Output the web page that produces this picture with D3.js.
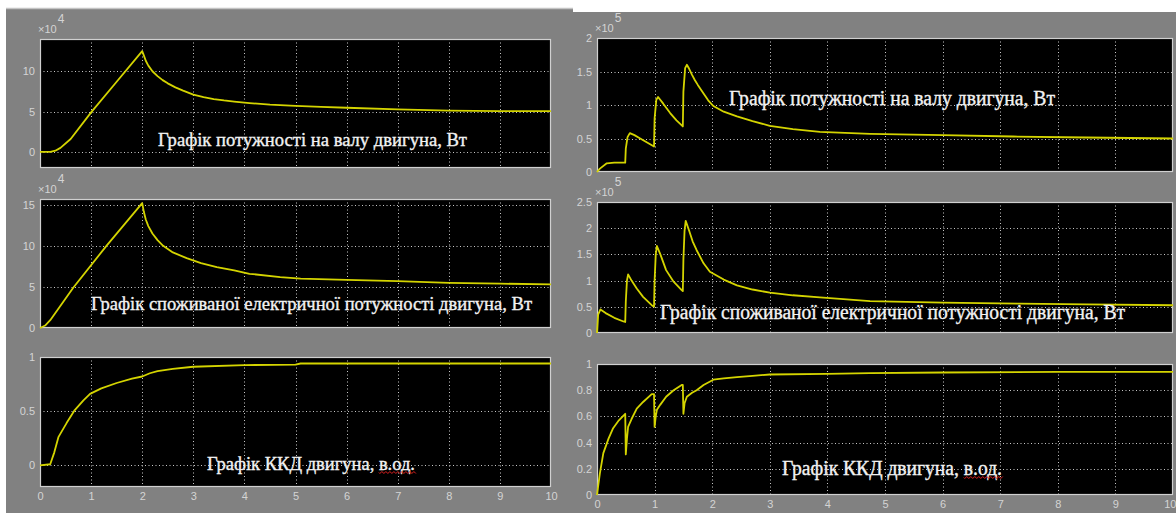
<!DOCTYPE html>
<html>
<head>
<meta charset="utf-8">
<script src="https://cdn.jsdelivr.net/npm/d3@7"></script>
<style>
  html, body { margin: 0; padding: 0; background: #ffffff; }
  svg { display: block; }
</style>
</head>
<body>
<svg id="chart" width="1176" height="513"></svg>
<script>
// ---------------- DATA ----------------
const xTicks = [0, 1, 2, 3, 4, 5, 6, 7, 8, 9, 10];

// Left simulation (scale ×10^4 for power)
const leftShaftT = [0, 0.2, 0.3, 0.4, 0.6, 1.0, 1.5, 2.0, 2.03, 2.07, 2.12, 2.2, 2.3, 2.4, 2.5, 2.65, 2.8, 3.0, 3.2, 3.4, 3.6, 3.8, 4.1, 4.5, 5.0, 5.5, 6.0, 7.0, 8.0, 9.0, 10];
const leftShaftP = [0, 0, 0.15, 0.5, 1.6, 4.9, 8.7, 12.5, 12.0, 11.3, 10.7, 10.0, 9.4, 8.9, 8.5, 8.0, 7.6, 7.1, 6.78, 6.55, 6.38, 6.24, 6.05, 5.85, 5.7, 5.58, 5.47, 5.27, 5.12, 5.06, 5.05];
const leftShaftTicks = [0, 5, 10];

const leftElecT = [0, 0.1, 0.2, 0.65, 1.3, 2.0, 2.03, 2.07, 2.12, 2.2, 2.3, 2.41, 2.6, 2.87, 3.15, 3.46, 3.8, 4.1, 4.7, 5.1, 6.0, 7.0, 8.0, 9.0, 10];
const leftElecP = [0, 0.3, 0.95, 4.9, 10, 15.2, 14.2, 13.2, 12.4, 11.5, 10.7, 10.0, 9.2, 8.5, 7.9, 7.4, 7.0, 6.6, 6.2, 6.0, 5.85, 5.7, 5.5, 5.4, 5.3];
const leftElecTicks = [0, 5, 10, 15];

const leftEffT = [0, 0.2, 0.28, 0.36, 0.52, 0.68, 0.85, 0.98, 1.2, 1.5, 1.8, 2.0, 2.15, 2.3, 2.6, 3.0, 4.0, 5.0, 5.1, 7, 10];
const leftEffV = [0, 0.01, 0.12, 0.26, 0.39, 0.51, 0.6, 0.66, 0.71, 0.76, 0.8, 0.82, 0.85, 0.87, 0.89, 0.91, 0.925, 0.93, 0.94, 0.94, 0.94];
const leftEffTicks = [0, 0.5, 1];

// Right simulation (scale ×10^5 for power)
const rightShaftT = [0, 0.05, 0.17, 0.3, 0.49, 0.5, 0.53, 0.57, 0.65, 0.75, 0.87, 0.99, 1.0, 1.03, 1.06, 1.15, 1.27, 1.38, 1.49, 1.5, 1.53, 1.56, 1.6, 1.65, 1.7, 1.75, 1.85, 1.93, 2.02, 2.2, 2.43, 2.7, 3.0, 3.4, 3.87, 4.74, 6.0, 7.22, 8.5, 10];
const rightShaftP = [0, 0.05, 0.13, 0.14, 0.14, 0.35, 0.52, 0.58, 0.55, 0.50, 0.44, 0.38, 0.8, 1.08, 1.12, 1.02, 0.88, 0.77, 0.68, 1.2, 1.55, 1.6, 1.54, 1.45, 1.37, 1.3, 1.17, 1.07, 0.985, 0.9, 0.83, 0.76, 0.69, 0.64, 0.6, 0.57, 0.55, 0.53, 0.515, 0.50];
const rightShaftTicks = [0, 0.5, 1, 1.5, 2];

const rightElecT = [0, 0.02, 0.06, 0.15, 0.3, 0.46, 0.49, 0.5, 0.52, 0.54, 0.6, 0.69, 0.8, 0.95, 0.99, 1.0, 1.02, 1.04, 1.1, 1.2, 1.33, 1.47, 1.49, 1.5, 1.52, 1.54, 1.6, 1.66, 1.73, 1.85, 1.96, 2.2, 2.43, 2.7, 3.0, 3.4, 3.87, 4.74, 6.0, 7.34, 8.5, 10];
const rightElecP = [0, 0.35, 0.45, 0.38, 0.29, 0.22, 0.21, 0.6, 1.0, 1.12, 1.0, 0.85, 0.69, 0.53, 0.5, 1.0, 1.5, 1.66, 1.5, 1.2, 0.98, 0.82, 0.8, 1.4, 1.95, 2.14, 1.95, 1.75, 1.58, 1.33, 1.17, 1.02, 0.91, 0.83, 0.77, 0.72, 0.68, 0.61, 0.58, 0.56, 0.545, 0.53];
const rightElecTicks = [0, 0.5, 1, 1.5, 2, 2.5];

const rightEffT = [0, 0.05, 0.11, 0.2, 0.28, 0.38, 0.49, 0.5, 0.52, 0.54, 0.6, 0.69, 0.8, 0.95, 0.99, 1.0, 1.02, 1.04, 1.1, 1.2, 1.33, 1.47, 1.49, 1.5, 1.52, 1.56, 1.65, 1.73, 1.85, 2.02, 2.2, 2.43, 2.7, 3.0, 4.0, 4.74, 6, 8, 10];
const rightEffV = [0, 0.165, 0.32, 0.43, 0.51, 0.57, 0.62, 0.31, 0.43, 0.52, 0.58, 0.66, 0.71, 0.77, 0.77, 0.52, 0.6, 0.65, 0.69, 0.75, 0.8, 0.84, 0.84, 0.62, 0.7, 0.75, 0.78, 0.80, 0.84, 0.88, 0.89, 0.90, 0.91, 0.92, 0.925, 0.93, 0.935, 0.94, 0.94];
const rightEffTicks = [0, 0.2, 0.4, 0.6, 0.8, 1];

const titleShaft = "Графік потужності на валу двигуна, Вт";
const titleElec = "Графік споживаної електричної потужності двигуна, Вт";
const titleEff = "Графік ККД двигуна, в.од.";

// ---------------- LAYOUT ----------------
const svg = d3.select("#chart");
const GRAY = "#818181";
const LINE = "#d4d400";

svg.append("rect").attr("x", 0).attr("y", 0).attr("width", 1176).attr("height", 513).attr("fill", "#ffffff");
svg.append("rect").attr("x", 6).attr("y", 9).attr("width", 567).attr("height", 504).attr("fill", GRAY);
svg.append("line").attr("x1", 6).attr("x2", 573).attr("y1", 8.5).attr("y2", 8.5).attr("stroke", "#c4c4c4").attr("stroke-width", 1.5);
svg.append("rect").attr("x", 573).attr("y", 12).attr("width", 603).attr("height", 501).attr("fill", GRAY);

const panels = [
  { x0: 40, x1: 551, y0: 39, y1: 168, dom: [-2, 14], ticks: leftShaftTicks, t: leftShaftT, v: leftShaftP, exp: "4", xLab: false,
    title: titleShaft, tx: 158, ty: 146, tw: 309, fs: 19 },
  { x0: 40, x1: 551, y0: 199, y1: 328, dom: [0, 15.7], ticks: leftElecTicks, t: leftElecT, v: leftElecP, exp: "4", xLab: false,
    title: titleElec, tx: 91, ty: 309.5, tw: 441, fs: 19 },
  { x0: 40, x1: 551, y0: 357, y1: 487, dom: [-0.2, 1], ticks: leftEffTicks, t: leftEffT, v: leftEffV, exp: null, xLab: true,
    title: titleEff, tx: 207, ty: 470, tw: 208, fs: 19, squiggle: true },
  { x0: 597, x1: 1173, y0: 38, y1: 172, dom: [0, 2], ticks: rightShaftTicks, t: rightShaftT, v: rightShaftP, exp: "5", xLab: false,
    title: titleShaft, tx: 729, ty: 105, tw: 326, fs: 20 },
  { x0: 597, x1: 1173, y0: 202, y1: 333, dom: [0, 2.5], ticks: rightElecTicks, t: rightElecT, v: rightElecP, exp: "5", xLab: false,
    title: titleElec, tx: 660, ty: 318.5, tw: 465, fs: 20 },
  { x0: 597, x1: 1173, y0: 364, y1: 495, dom: [0, 1], ticks: rightEffTicks, t: rightEffT, v: rightEffV, exp: null, xLab: true,
    title: titleEff, tx: 782, ty: 475, tw: 220, fs: 20, squiggle: true }
];

const fmt = d => (Number.isInteger(d) ? String(d) : String(+d.toFixed(1)));

panels.forEach(p => {
  const x = d3.scaleLinear().domain([0, 10]).range([p.x0, p.x1]);
  const y = d3.scaleLinear().domain(p.dom).range([p.y1, p.y0]);
  const g = svg.append("g");

  g.append("rect").attr("x", p.x0).attr("y", p.y0).attr("width", p.x1 - p.x0).attr("height", p.y1 - p.y0)
    .attr("fill", "#000000");

  const grid = g.append("g").attr("stroke", "#c8c8c8").attr("stroke-width", 1).attr("stroke-dasharray", "1,2.5");
  xTicks.filter(d => d > 0 && d < 10).forEach(d => {
    grid.append("line").attr("x1", Math.round(x(d)) + 0.5).attr("x2", Math.round(x(d)) + 0.5)
      .attr("y1", p.y0).attr("y2", p.y1);
  });
  p.ticks.forEach(d => {
    const yy = Math.round(y(d)) + 0.5;
    if (yy <= p.y0 + 1 || yy >= p.y1 - 1) return;
    grid.append("line").attr("x1", p.x0).attr("x2", p.x1).attr("y1", yy).attr("y2", yy);
  });

  const yAxis = d3.axisLeft(y).tickValues(p.ticks).tickFormat(fmt).tickSize(0).tickPadding(5);
  const ya = g.append("g").attr("transform", `translate(${p.x0},0)`).call(yAxis);
  ya.select(".domain").remove();
  ya.selectAll("text").attr("fill", "#d4d4d4").style("font-family", "'Liberation Sans', Arial, sans-serif").style("font-size", "11px");

  if (p.xLab) {
    const xAxis = d3.axisBottom(x).tickValues(xTicks).tickFormat(d3.format("d")).tickSize(0).tickPadding(5);
    const xa = g.append("g").attr("transform", `translate(0,${p.y1})`).call(xAxis);
    xa.select(".domain").remove();
    xa.selectAll("text").attr("fill", "#d4d4d4").style("font-family", "'Liberation Sans', Arial, sans-serif").style("font-size", "11px");
    // keep the last label inside the picture when the axis ends at the window edge
    if (p.x1 + 8 > 1176) {
      xa.selectAll(".tick").filter(d => d === 10).select("text").attr("text-anchor", "end").attr("dx", 3);
    }
  }

  g.append("rect").attr("x", p.x0 + 0.5).attr("y", p.y0 + 0.5).attr("width", p.x1 - p.x0 - 1).attr("height", p.y1 - p.y0 - 1)
    .attr("fill", "none").attr("stroke", "#d0d0d0").attr("stroke-width", 1.2);

  if (p.exp) {
    const el = g.append("text").attr("x", p.x0 - 2).attr("y", p.y0 - 6)
      .attr("fill", "#d4d4d4").style("font-family", "'Liberation Sans', Arial, sans-serif").style("font-size", "11px");
    el.append("tspan").text("×10");
    el.append("tspan").attr("dy", -10).attr("dx", 1).style("font-size", "12px").text(p.exp);
  }

  const pts = p.t.map((t, i) => [t, p.v[i]]);
  const line = d3.line().x(d => x(d[0])).y(d => y(d[1])).curve(d3.curveLinear);
  g.append("path").datum(pts).attr("d", line).attr("fill", "none")
    .attr("stroke", LINE).attr("stroke-width", 1.8).attr("stroke-linejoin", "round");

  const tt = g.append("text").attr("x", p.tx).attr("y", p.ty).attr("fill", "#f2f2f2")
    .attr("stroke", "#f2f2f2").attr("stroke-width", 0.35)
    .style("font-family", "'Liberation Serif', 'Times New Roman', serif").style("font-size", p.fs + "px")
    .attr("textLength", p.tw).attr("lengthAdjust", "spacingAndGlyphs").text(p.title);

  if (p.squiggle) {
    const node = tt.node();
    const idx = p.title.indexOf("в.од.");
    const s = node.getStartPositionOfChar(idx).x;
    const e = node.getEndPositionOfChar(p.title.length - 1).x;
    const by = p.ty + 2.5;
    let d = `M${s},${by}`;
    for (let xx = s; xx < e; xx += 2) {
      d += ` L${xx + 1},${by + ((Math.round((xx - s) / 2) % 2) ? -1 : 1)}`;
    }
    g.append("path").attr("d", d).attr("fill", "none").attr("stroke", "#e02020").attr("stroke-width", 1);
  }
});
</script>
</body>
</html>
